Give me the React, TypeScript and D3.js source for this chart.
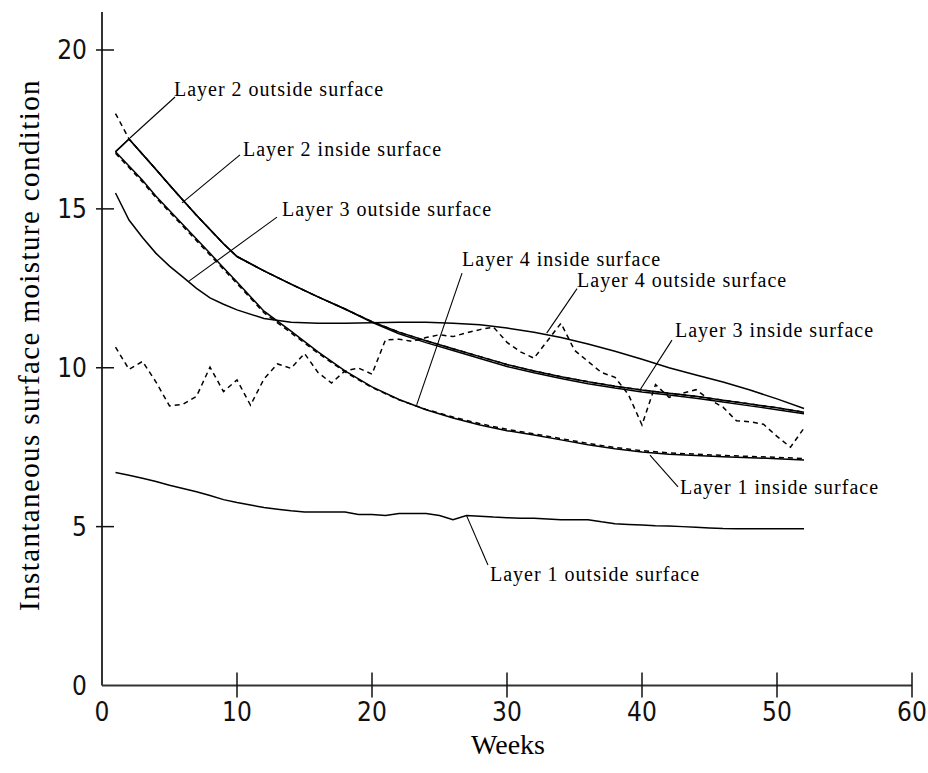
import React from "react";
import * as d3 from "d3";

// ---------- data ----------
const weeklyWeeks = [1,2,3,4,5,6,7,8,9,10,11,12,13,14,15,16,17,18,19,20,21,22,23,24,25,26,27,28,29,30,31,32,33,34,35,36,37,38,39,40,41,42,43,44,45,46,47,48,49,50,51,52];
const sampledWeeks = [1,2,3,4,5,6,7,8,9,10,12,14,16,18,20,22,24,26,28,30,32,34,36,38,40,42,44,46,48,50,52];

const layer1Outside = [6.70,6.62,6.52,6.42,6.30,6.20,6.10,5.98,5.85,5.76,5.68,5.60,5.55,5.50,5.46,5.46,5.46,5.46,5.38,5.38,5.35,5.41,5.41,5.41,5.35,5.22,5.35,5.33,5.30,5.28,5.26,5.26,5.24,5.22,5.22,5.22,5.15,5.09,5.07,5.05,5.03,5.02,5.00,4.98,4.96,4.94,4.93,4.93,4.93,4.93,4.93,4.93];
const layer4Outside = [10.65,9.95,10.20,9.55,8.80,8.85,9.10,10.02,9.25,9.62,8.82,9.65,10.12,9.98,10.45,9.85,9.52,9.90,9.99,9.80,10.88,10.90,10.83,10.95,11.04,10.98,11.10,11.20,11.28,10.80,10.50,10.30,10.85,11.40,10.55,10.20,9.85,9.70,9.15,8.20,9.47,9.07,9.20,9.31,9.00,8.76,8.33,8.30,8.22,7.84,7.50,8.10];
const layer1Inside = [16.8,16.35,15.9,15.4,14.95,14.5,14.05,13.6,13.15,12.7,11.78,11.15,10.5,9.9,9.4,9.0,8.68,8.42,8.2,8.02,7.88,7.73,7.58,7.45,7.35,7.28,7.24,7.2,7.17,7.14,7.1];
const layer4Inside = [16.75,16.3,15.85,15.35,14.9,14.45,14.0,13.55,13.1,12.65,11.73,11.1,10.46,9.87,9.38,8.99,8.69,8.45,8.24,8.06,7.92,7.77,7.62,7.49,7.39,7.32,7.28,7.24,7.21,7.18,7.14];
const layer2Outside = [18.0,17.2,16.72,16.24,15.75,15.27,14.8,14.35,13.9,13.5,13.05,12.63,12.23,11.85,11.45,11.12,10.85,10.6,10.35,10.1,9.9,9.72,9.56,9.42,9.3,9.2,9.1,8.98,8.86,8.74,8.6];
const layer2Inside = [16.8,17.2,16.72,16.24,15.75,15.27,14.8,14.35,13.9,13.5,13.05,12.63,12.23,11.85,11.45,11.12,10.85,10.6,10.35,10.1,9.9,9.72,9.56,9.42,9.3,9.2,9.1,8.98,8.86,8.74,8.6];
const layer3Inside = [16.8,17.2,16.72,16.24,15.75,15.27,14.8,14.35,13.9,13.5,13.05,12.63,12.23,11.85,11.43,11.07,10.79,10.54,10.29,10.04,9.84,9.66,9.5,9.36,9.24,9.14,9.04,8.92,8.8,8.68,8.55];
const layer3Outside = [15.5,14.65,14.1,13.6,13.2,12.85,12.5,12.2,12.0,11.82,11.55,11.43,11.4,11.4,11.42,11.43,11.43,11.4,11.35,11.25,11.12,10.95,10.75,10.52,10.27,10.0,9.77,9.55,9.3,9.02,8.72];

const xTicks = [0,10,20,30,40,50,60];
const yTicks = [0,5,10,15,20];

const labelTexts = ["Layer 2 outside surface","Layer 2 inside surface","Layer 3 outside surface","Layer 4 inside surface","Layer 4 outside surface","Layer 3 inside surface","Layer 1 inside surface","Layer 1 outside surface"];
// text anchor (week, value)
const labelWeeks = [5.33,10.44,13.33,26.67,35.19,42.44,42.81,28.74];
const labelValues = [18.55,16.66,14.78,13.20,12.54,10.97,6.03,3.29];
// leader from (week,value) to (week,value)
const leaderFromWeeks = [5.41,10.22,12.96,26.67,35.19,42.22,40.59,27.02];
const leaderFromValues = [18.52,16.70,14.74,12.98,12.49,10.87,7.25,5.33];
const leaderToWeeks = [2.07,5.93,6.39,23.31,32.94,39.85,42.67,28.59];
const leaderToValues = [17.23,15.19,12.71,8.83,11.09,9.30,6.25,3.79];

// ---------- chart ----------
const W = 928, H = 773;
const x = d3.scaleLinear().domain([0, 60]).range([102, 912]);
const y = d3.scaleLinear().domain([0, 20]).range([685.5, 50]);

type Series = { weeks: number[]; values: number[]; dashed: boolean };
const series: Series[] = [
  { weeks: weeklyWeeks, values: layer1Outside, dashed: false },
  { weeks: weeklyWeeks, values: layer4Outside, dashed: true },
  { weeks: sampledWeeks, values: layer3Outside, dashed: false },
  { weeks: sampledWeeks, values: layer1Inside, dashed: false },
  { weeks: sampledWeeks, values: layer4Inside, dashed: true },
  { weeks: sampledWeeks, values: layer2Outside, dashed: true },
  { weeks: sampledWeeks, values: layer2Inside, dashed: false },
  { weeks: sampledWeeks, values: layer3Inside, dashed: false },
];

const lineGen = d3
  .line<[number, number]>()
  .x((d) => x(d[0]))
  .y((d) => y(d[1]))
  .curve(d3.curveLinear);

const tickFont = "'Liberation Sans Narrow', 'Arial Narrow', 'DejaVu Sans Condensed', sans-serif";
const serif = "'Liberation Serif', 'Times New Roman', serif";

export default function App() {
  return (
    <svg
      width={W}
      height={H}
      viewBox={`0 0 ${W} ${H}`}
      style={{ position: "absolute", left: 0, top: 0, background: "#fff" }}
    >
      <rect x={0} y={0} width={W} height={H} fill="#fff" />
      {/* axes */}
      <line x1={x(0)} x2={x(0)} y1={12} y2={y(0)} stroke="#333" strokeWidth={2} />
      <line x1={x(0)} x2={x(60)} y1={y(0)} y2={y(0)} stroke="#333" strokeWidth={2} />
      {yTicks.filter((t) => t > 0).map((t) => (
        <line key={"yt" + t} x1={96} x2={114} y1={y(t)} y2={y(t)} stroke="#111" strokeWidth={1.5} />
      ))}
      {xTicks.filter((t) => t > 0).map((t) => (
        <line key={"xt" + t} x1={x(t)} x2={x(t)} y1={y(0) - 13} y2={y(0) + 12} stroke="#111" strokeWidth={1.5} />
      ))}
      {yTicks.map((t) => (
        <text key={"yl" + t} x={87} y={y(t) + 9.3} textAnchor="end" fontFamily={tickFont} fontSize={26} fill="#111">
          {t}
        </text>
      ))}
      {xTicks.map((t) => (
        <text key={"xl" + t} x={x(t)} y={721} textAnchor="middle" fontFamily={tickFont} fontSize={26} fill="#111">
          {t}
        </text>
      ))}
      {/* axis titles */}
      <text x={508} y={754} textAnchor="middle" fontFamily={serif} fontSize={28} fill="#000">
        Weeks
      </text>
      <text
        transform={`translate(39,345) rotate(-90)`}
        textAnchor="middle"
        fontFamily={serif}
        fontSize={29}
        letterSpacing={1.4}
        fill="#000"
      >
        Instantaneous surface moisture condition
      </text>
      {/* series */}
      {series.map((s, i) => (
        <path
          key={"s" + i}
          d={lineGen(s.weeks.map((w, j) => [w, s.values[j]] as [number, number])) || ""}
          fill="none"
          stroke="#000"
          strokeWidth={1.5}
          strokeDasharray={s.dashed ? "5,4" : undefined}
        />
      ))}
      {/* annotations */}
      {labelTexts.map((t, i) => (
        <g key={"lab" + i}>
          <line
            x1={x(leaderFromWeeks[i])}
            y1={y(leaderFromValues[i])}
            x2={x(leaderToWeeks[i])}
            y2={y(leaderToValues[i])}
            stroke="#000"
            strokeWidth={1.1}
          />
          <text
            x={x(labelWeeks[i])}
            y={y(labelValues[i])}
            fontFamily={serif}
            fontSize={20}
            letterSpacing={1}
            fill="#000"
          >
            {t}
          </text>
        </g>
      ))}
    </svg>
  );
}
